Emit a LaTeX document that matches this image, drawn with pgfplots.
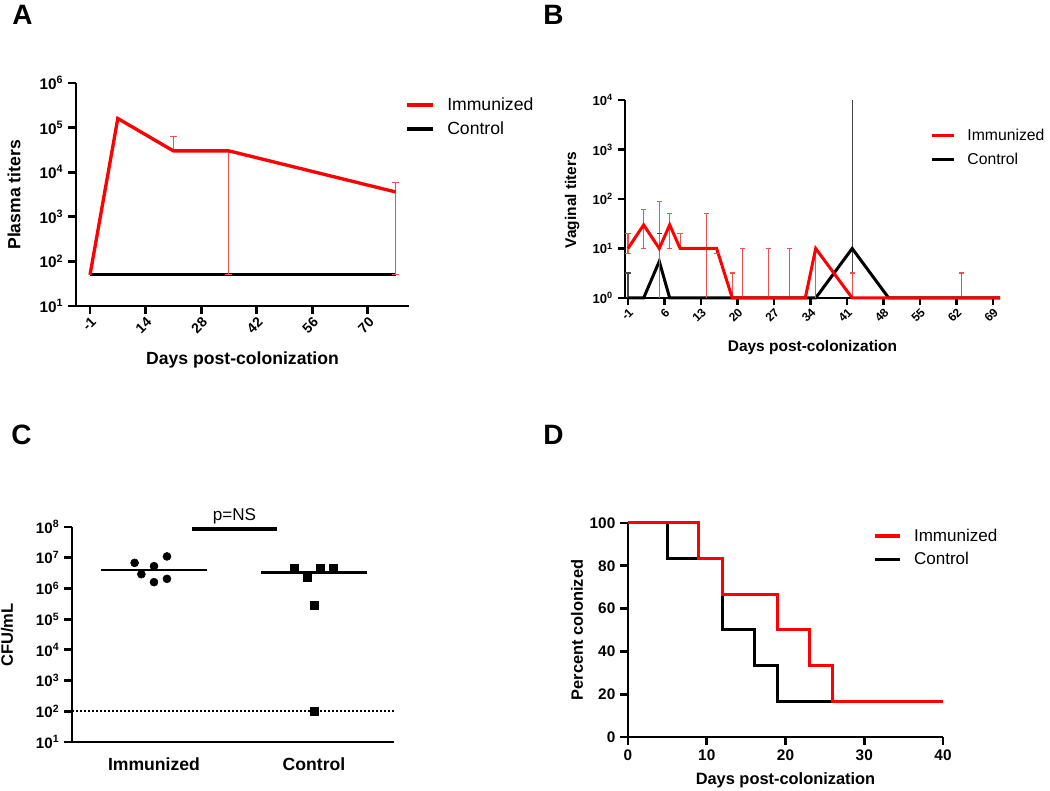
\documentclass[border=0pt]{standalone}
\usepackage{fontspec}
\setmainfont{Liberation Sans}
\usepackage{pgfplots}
\pgfplotsset{compat=1.18}
\definecolor{pred}{RGB}{255,0,0}
\definecolor{ebred}{RGB}{240,80,80}
\definecolor{ebgray}{RGB}{70,70,70}
\begin{document}
\begin{tikzpicture}
\path[use as bounding box] (0,0) rectangle (787.5pt,593.25pt);
\pgfplotsset{
  gp/.style={
    scale only axis,
    axis x line*=bottom, axis y line*=left,
    axis line style={line width=2.2pt},
    tick style={line width=2.2pt, black},
    tick align=outside,
    major tick length=6pt,
    xminorticks=false, yminorticks=false,
    clip=false,
    legend cell align=left,
    legend style={draw=none, fill=none, inner sep=0pt, column sep=7pt},
  },
}
% Panel letters
\node[anchor=base west, font=\bfseries\fontsize{21}{24}\selectfont, inner sep=0pt] at (9pt,574.5pt) {A};
\node[anchor=base west, font=\bfseries\fontsize{21}{24}\selectfont, inner sep=0pt] at (407.25pt,574.5pt) {B};
\node[anchor=base west, font=\bfseries\fontsize{21}{24}\selectfont, inner sep=0pt] at (8.25pt,259.5pt) {C};
\node[anchor=base west, font=\bfseries\fontsize{21}{24}\selectfont, inner sep=0pt] at (407.25pt,259.5pt) {D};

% ---------------- Panel A ----------------
\begin{axis}[gp, at={(57pt,363.75pt)}, anchor=south west,
  width=249.75pt, height=167.25pt,
  ymode=log, ymin=10, ymax=1e6, xmin=-4.53, xmax=79.35,
  xtick={-1,13,27,41,55,69}, xticklabels={-1,14,28,42,56,70},
  ytick={10,100,1000,10000,100000,1000000},
  yticklabels={10\textsuperscript{1},10\textsuperscript{2},10\textsuperscript{3},10\textsuperscript{4},10\textsuperscript{5},10\textsuperscript{6}},
  yticklabel style={font=\bfseries\fontsize{11.5}{13}\selectfont},
  xticklabel style={font=\bfseries\fontsize{10.5}{12}\selectfont, rotate=45, anchor=north east, inner sep=1pt},
  xlabel={Days post-colonization}, ylabel={Plasma titers},
  label style={font=\bfseries\fontsize{13.2}{15}\selectfont},
  xlabel style={at={(axis description cs:0.5,-0.242)}, anchor=center},
  ylabel style={at={(axis description cs:-0.186,0.498)}, anchor=center},
  legend style={at={(axis description cs:0.988,0.946)}, anchor=north west, font=\fontsize{13.2}{15}\selectfont, row sep=3pt},
  legend image code/.code={\draw[#1] (0pt,0pt) -- (19.5pt,0pt);},
]
\addlegendimage{pred, line width=3pt}\addlegendentry{Immunized}
\addlegendimage{black, line width=3pt}\addlegendentry{Control}
\addplot[forget plot, black, line width=2.5pt] coordinates {(-1,50) (76,50)};
\addplot[forget plot, ebred, line width=0.8pt, unbounded coords=jump] coordinates {
  (20,3.0e4) (20,6.2e4) (nan,nan)
  (34,50) (34,3.0e4) (nan,nan)
  (76,50) (76,6.0e3)};
\addplot[forget plot, only marks, ebred, mark=-, mark size=2.6pt, mark options={line width=0.8pt}] coordinates {
  (20,6.2e4) (34,50) (76,6.0e3) (76,50)};
\addplot[forget plot, pred, line width=2.5pt] coordinates {(-1,50) (6,1.6e5) (20,3.0e4) (34,3.0e4) (76,3.6e3)};
\end{axis}

% ---------------- Panel B ----------------
\begin{axis}[gp, at={(468.75pt,369.75pt)}, anchor=south west,
  width=281.25pt, height=148.5pt, major tick length=5.5pt,
  axis line style={line width=2pt}, tick style={line width=2pt, black},
  ymode=log, ymin=1, ymax=1e4, xmin=-1.575, xmax=70.35,
  xtick={-1,6,13,20,27,34,41,48,55,62,69},
  xticklabels={-1,6,13,20,27,34,41,48,55,62,69},
  ytick={1,10,100,1000,10000},
  yticklabels={10\textsuperscript{0},10\textsuperscript{1},10\textsuperscript{2},10\textsuperscript{3},10\textsuperscript{4}},
  yticklabel style={font=\bfseries\fontsize{9.8}{11}\selectfont},
  xticklabel style={font=\bfseries\fontsize{9}{10}\selectfont, rotate=45, anchor=north east, inner sep=1pt},
  xlabel={Days post-colonization}, ylabel={Vaginal titers},
  label style={font=\bfseries\fontsize{11.6}{13}\selectfont},
  xlabel style={at={(axis description cs:0.5,-0.25)}, anchor=center},
  ylabel style={at={(axis description cs:-0.141,0.495)}, anchor=center},
  legend style={at={(axis description cs:0.813,0.869)}, anchor=north west, font=\fontsize{11.8}{14}\selectfont, row sep=4pt},
  legend image code/.code={\draw[#1] (0pt,0pt) -- (16.5pt,0pt);},
]
\addlegendimage{pred, line width=2.5pt}\addlegendentry{Immunized}
\addlegendimage{black, line width=2.5pt}\addlegendentry{Control}
\addplot[forget plot, ebgray, line width=0.8pt, unbounded coords=jump] coordinates {
  (-1,1) (-1,3.2) (nan,nan)
  (5,1) (5,20) (nan,nan)
  (42,1) (42,1e4)};
\addplot[forget plot, only marks, ebgray, mark=-, mark size=2pt, mark options={line width=0.8pt}] coordinates {
  (-1,3.2) (5,20)};
\addplot[forget plot, black, line width=2.25pt] coordinates {
  (-1,1) (2,1) (5,5.5) (7,1) (35,1) (42,10) (49,1) (70.35,1)};
\addplot[forget plot, ebred, line width=0.8pt, unbounded coords=jump] coordinates {
  (-1,8) (-1,20) (nan,nan)
  (2,10) (2,60) (nan,nan)
  (5,1) (5,90) (nan,nan)
  (7,10) (7,50) (nan,nan)
  (9,10) (9,20) (nan,nan)
  (14,1) (14,50) (nan,nan)
  (16,8) (16,10) (nan,nan)
  (19,1) (19,3.2) (nan,nan)
  (21,1) (21,10) (nan,nan)
  (26,1) (26,10) (nan,nan)
  (30,1) (30,10) (nan,nan)
  (35,1) (35,10) (nan,nan)
  (42,1) (42,3.2) (nan,nan)
  (63,1) (63,3.2)};
\addplot[forget plot, only marks, ebred, mark=-, mark size=2pt, mark options={line width=0.8pt}] coordinates {
  (-1,20) (-1,8) (2,60) (2,10) (5,90) (7,50) (7,10) (9,20) (14,50) (16,8)
  (19,3.2) (21,10) (26,10) (30,10) (42,3.2) (63,3.2)};
\addplot[forget plot, pred, line width=2.25pt] coordinates {
  (-1,10) (2,30) (5,10) (7,30) (9,10) (14,10) (16,10) (19,1) (21,1) (26,1) (30,1) (33,1)
  (35,10) (42,1) (63,1) (70.35,1)};
\end{axis}

% ---------------- Panel C ----------------
\begin{axis}[gp, at={(54pt,36.75pt)}, anchor=south west,
  width=241.5pt, height=161.25pt,
  ymode=log, ymin=10, ymax=1e8, xmin=0.4875, xmax=2.5,
  xtick={1,2}, xticklabels={Immunized,Control},
  x tick style={draw=none},
  ytick={10,100,1000,10000,100000,1000000,10000000,100000000},
  yticklabels={10\textsuperscript{1},10\textsuperscript{2},10\textsuperscript{3},10\textsuperscript{4},10\textsuperscript{5},10\textsuperscript{6},10\textsuperscript{7},10\textsuperscript{8}},
  yticklabel style={font=\bfseries\fontsize{11.3}{13}\selectfont},
  xticklabel style={font=\bfseries\fontsize{13.2}{15}\selectfont, yshift=-2.5pt},
  ylabel={CFU/mL},
  label style={font=\bfseries\fontsize{12.4}{14}\selectfont},
  ylabel style={at={(axis description cs:-0.202,0.498)}, anchor=center},
]
\addplot[black, line width=1.2pt, dash pattern=on 1.2pt off 1.8pt] coordinates {(0.4875,100) (2.5,100)};
\addplot[black, line width=1.6pt] coordinates {(0.67,4e6) (1.33,4e6)};
\addplot[black, line width=1.6pt] coordinates {(1.67,3.3e6) (2.33,3.3e6)};
\addplot[only marks, black, mark=*, mark size=3pt] coordinates {
  (0.879,6.8e6) (0.921,2.9e6) (1,5.3e6) (1,1.6e6) (1.081,1.1e7) (1.081,2.05e6)};
\addplot[only marks, black, mark=square*, mark size=3pt] coordinates {
  (1.879,4.5e6) (1.96,2.3e6) (2,2.8e5) (2,100) (2.04,4.5e6) (2.121,4.5e6)};
\addplot[black, line width=2.6pt] coordinates {(1.2375,8.6e7) (1.769,8.6e7)};
\node[font=\fontsize{12.8}{15}\selectfont] at (axis cs:1.503,2.3e8) {p=NS};
\end{axis}

% ---------------- Panel D ----------------
\begin{axis}[gp, at={(471pt,40.5pt)}, anchor=south west,
  width=236.25pt, height=160.5pt,
  xmin=0, xmax=40, ymin=0, ymax=100,
  xtick={0,10,20,30,40}, ytick={0,20,40,60,80,100},
  ticklabel style={font=\bfseries\fontsize{11.5}{13}\selectfont},
  /pgf/number format/assume math mode=true,
  xlabel={Days post-colonization}, ylabel={Percent colonized},
  label style={font=\bfseries\fontsize{12.3}{14}\selectfont},
  xlabel style={at={(axis description cs:0.5,-0.201)}, anchor=center},
  ylabel style={at={(axis description cs:-0.162,0.5)}, anchor=center},
  legend style={at={(axis description cs:0.778,0.986)}, anchor=north west, font=\fontsize{12.8}{15}\selectfont, row sep=3pt},
  legend image code/.code={\draw[#1] (0pt,0pt) -- (19pt,0pt);},
]
\addlegendimage{pred, line width=2.5pt}\addlegendentry{Immunized}
\addlegendimage{black, line width=2.5pt}\addlegendentry{Control}
\addplot[forget plot, black, line width=2.25pt, const plot] coordinates {
  (0,100) (5,83.33) (12,50) (16,33.33) (19,16.67) (26,16.67)};
\addplot[forget plot, pred, line width=2.25pt, const plot] coordinates {
  (0,100) (9,83.33) (12,66.67) (19,50) (23,33.33) (26,16.67) (40,16.67)};
\end{axis}
\end{tikzpicture}
\end{document}
